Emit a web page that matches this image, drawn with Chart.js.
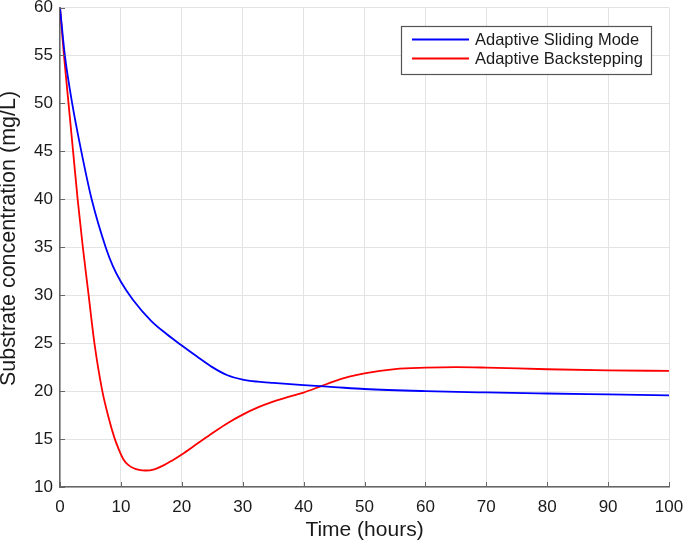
<!DOCTYPE html>
<html lang="en">
<head>
  <meta charset="UTF-8">
  <title>Substrate concentration</title>
  <style>
    body { margin: 0; background: #fff; }
    #wrap { width: 685px; height: 544px; }
  </style>
</head>
<body>
  <div id="wrap"><canvas id="chart" width="685" height="544"></canvas></div>

  <script src="https://cdn.jsdelivr.net/npm/chart.js@4.4.1/dist/chart.umd.min.js"></script>
  <script>
    // Values
    const seriesNames = ['Adaptive Sliding Mode', 'Adaptive Backstepping'];
    const slidingTime = [0, 0.8, 2.0, 3.5, 5.2, 7.5, 8.7, 10, 12, 15, 17.5, 20, 22.5, 25, 27.5, 30, 32.5, 35, 40, 45, 50, 60, 70, 80, 90, 100];
    const slidingConc = [60, 55, 50, 45, 40, 35, 33.0, 31.4, 29.5, 27.3, 25.95, 24.75, 23.6, 22.5, 21.65, 21.2, 20.98, 20.85, 20.62, 20.42, 20.22, 20.0, 19.86, 19.75, 19.65, 19.55];
    const backTime = [0, 0.65, 1.4, 2.15, 2.9, 3.75, 4.7, 5.65, 6.95, 8.0, 8.9, 9.6, 10.4, 11.2, 12.1, 13, 14, 15.5, 17, 18.5, 20, 22.5, 25, 27.5, 30, 32.5, 35, 37.5, 40, 42.8, 45, 47.5, 50, 55, 60, 65, 70, 80, 90, 100];
    const backConc = [60, 55, 50, 45, 40, 35, 30, 25, 20, 17.2, 15.2, 14.0, 12.9, 12.3, 11.95, 11.78, 11.72, 11.85, 12.25, 12.8, 13.4, 14.5, 15.6, 16.65, 17.55, 18.3, 18.9, 19.4, 19.85, 20.5, 21.02, 21.5, 21.86, 22.3, 22.44, 22.5, 22.45, 22.28, 22.17, 22.1];
    const xTicks = [0, 10, 20, 30, 40, 50, 60, 70, 80, 90, 100];
    const yTicks = [10, 15, 20, 25, 30, 35, 40, 45, 50, 55, 60];
    const yTitle = 'Substrate concentration (mg/L)';

    const FONT = "'Liberation Sans', Arial, Helvetica, sans-serif";
    const AXIS = '#666';
    const GRID = '#e3e3e3';
    const TEXT = '#1a1a1a';

    function points(xs, ys) { return xs.map((x, i) => ({ x: x, y: ys[i] })); }

    // small tick marks pointing into the plot, matlab style
    const innerTicks = {
      id: 'innerTicks',
      afterDraw(chart) {
        const { ctx, chartArea: a, scales } = chart;
        ctx.save();
        ctx.strokeStyle = AXIS;
        ctx.lineWidth = 1;
        ctx.beginPath();
        xTicks.forEach(v => {
          const px = Math.round(scales.x.getPixelForValue(v)) + 0.5;
          ctx.moveTo(px, a.bottom); ctx.lineTo(px, a.bottom - 5);
        });
        yTicks.forEach(v => {
          const py = Math.round(scales.y.getPixelForValue(v)) + 0.5;
          ctx.moveTo(a.left, py); ctx.lineTo(a.left + 5, py);
        });
        ctx.stroke();
        ctx.restore();
      }
    };

    // rotated y title, placed a bit above the plot centre like the reference
    const sideTitle = {
      id: 'sideTitle',
      afterDraw(chart) {
        const ctx = chart.ctx;
        ctx.save();
        ctx.translate(9, 238.5);
        ctx.rotate(-Math.PI / 2);
        ctx.font = '21.5px ' + FONT;
        ctx.fillStyle = TEXT;
        ctx.textAlign = 'center';
        ctx.textBaseline = 'middle';
        ctx.fillText(yTitle, 0, 0);
        ctx.restore();
      }
    };

    // boxed legend in the top right corner
    const boxLegend = {
      id: 'boxLegend',
      afterDraw(chart) {
        const ctx = chart.ctx;
        const x0 = 401, y0 = 26, w = 250, h = 48;
        ctx.save();
        ctx.fillStyle = '#fff';
        ctx.fillRect(x0, y0, w, h);
        ctx.strokeStyle = '#555';
        ctx.lineWidth = 1.2;
        ctx.strokeRect(x0 + 0.5, y0 + 0.5, w, h);
        ctx.font = '16.5px ' + FONT;
        ctx.textBaseline = 'middle';
        chart.data.datasets.forEach((ds, i) => {
          const y = y0 + 13.5 + i * 19;
          ctx.strokeStyle = ds.borderColor;
          ctx.lineWidth = 1.8;
          ctx.beginPath();
          ctx.moveTo(412, y); ctx.lineTo(469, y);
          ctx.stroke();
          ctx.fillStyle = TEXT;
          ctx.fillText(ds.label, 475, y + 1);
        });
        ctx.restore();
      }
    };

    new Chart(document.getElementById('chart'), {
      type: 'line',
      data: {
        datasets: [
          {
            label: seriesNames[0],
            data: points(slidingTime, slidingConc),
            borderColor: '#0000ff',
            borderWidth: 1.8,
            cubicInterpolationMode: 'monotone',
            pointRadius: 0,
            fill: false,
          },
          {
            label: seriesNames[1],
            data: points(backTime, backConc),
            borderColor: '#ff0000',
            borderWidth: 1.8,
            cubicInterpolationMode: 'monotone',
            pointRadius: 0,
            fill: false,
          },
        ],
      },
      options: {
        responsive: false,
        animation: false,
        layout: { padding: { left: 0, right: 16, top: 7.5, bottom: 0 } },
        plugins: { legend: { display: false }, tooltip: { enabled: false } },
        scales: {
          x: {
            type: 'linear', min: 0, max: 100,
            afterBuildTicks: s => { s.ticks = xTicks.map(v => ({ value: v })); },
            afterFit: s => { s.height = 57; s.paddingLeft = 0; s.paddingRight = 0; },
            ticks: { color: TEXT, font: { family: FONT, size: 17 }, padding: 10, maxRotation: 0 },
            grid: { color: GRID, lineWidth: 1, drawTicks: false },
            border: { color: AXIS, width: 1.5 },
            title: {
              display: true, text: 'Time (hours)', color: TEXT,
              font: { family: FONT, size: 21 }, padding: { top: 0, bottom: 1 },
            },
          },
          y: {
            type: 'linear', min: 10, max: 60,
            afterBuildTicks: s => { s.ticks = yTicks.map(v => ({ value: v })); },
            afterFit: s => { s.width = 60; s.paddingTop = 0; s.paddingBottom = 0; },
            ticks: { color: TEXT, font: { family: FONT, size: 17 }, padding: 7 },
            grid: { color: GRID, lineWidth: 1, drawTicks: false },
            border: { color: AXIS, width: 1.5 },
          },
        },
      },
      plugins: [innerTicks, sideTitle, boxLegend],
    });
  </script>
</body>
</html>
